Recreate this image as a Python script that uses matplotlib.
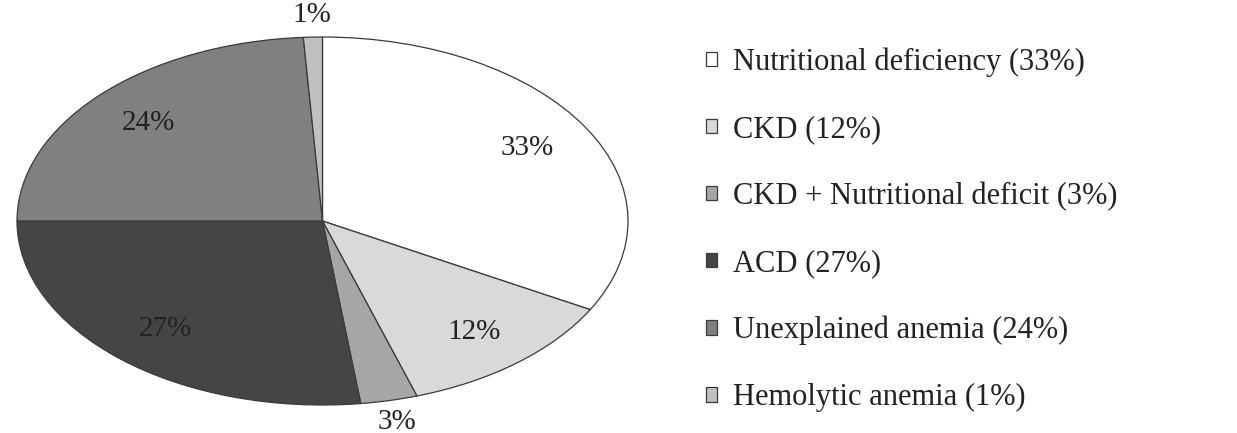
import numpy as np
import matplotlib.pyplot as plt

plt.rcParams['font.family'] = ['Liberation Serif', 'DejaVu Serif']

# data
categories = ['Nutritional deficiency', 'CKD', 'CKD + Nutritional deficit',
              'ACD', 'Unexplained anemia', 'Hemolytic anemia']
shares = [33, 12, 3, 27, 24, 1]
colors = ['#ffffff', '#d9d9d9', '#a6a6a6', '#454545', '#808080', '#c0c0c0']

fig = plt.figure(figsize=(12.37, 4.33), dpi=100)
ax = fig.add_axes([17 / 1237, 28 / 433, 611 / 1237, 368 / 433])

wedges, _ = ax.pie(shares, colors=colors, startangle=90, counterclock=False,
                   wedgeprops=dict(edgecolor='#3a3a3a', linewidth=0.9))

# percentage labels, small slices outside
for w, v in zip(wedges, shares):
    ang = np.deg2rad((w.theta1 + w.theta2) / 2)
    r = 1.12 if v < 5 else 0.78
    ax.text(r * np.cos(ang), r * np.sin(ang), f'{v}%', ha='center', va='center',
            fontsize=21, color='#222222', clip_on=False)

ax.set_aspect('auto')
ax.set_xlim(-1, 1)
ax.set_ylim(-1, 1)
ax.axis('off')

fig.legend(wedges, [f'{c} ({v}%)' for c, v in zip(categories, shares)],
           loc='upper left', bbox_to_anchor=(678 / 1237, 1 - 20 / 433),
           frameon=False, fontsize=22, labelspacing=1.24,
           handlelength=0.36, handleheight=0.36, handletextpad=0.55,
           labelcolor='#222222')

fig.savefig('out.png', dpi=100)
